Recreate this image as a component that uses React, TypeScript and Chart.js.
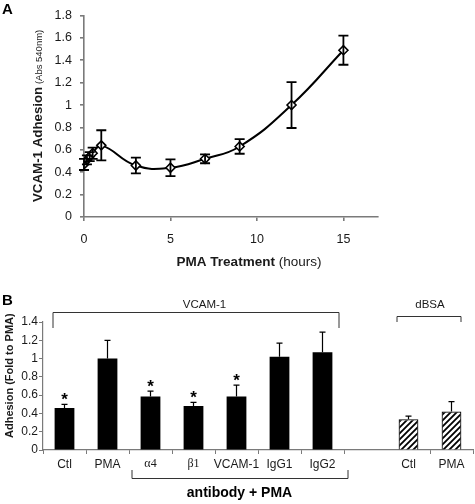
import React, { useEffect, useRef } from "react";
import { Chart, registerables } from "chart.js";
Chart.register(...registerables);

const SANS = "'Liberation Sans', Arial, sans-serif";
const SERIF = "'Liberation Serif', 'Times New Roman', serif";

// Panel A data
const timeHours = [0, 0.17, 0.33, 0.5, 1, 3, 5, 7, 9, 12, 15];
const adhesionA = [0.47, 0.51, 0.54, 0.57, 0.64, 0.46, 0.44, 0.52, 0.63, 1.0, 1.49];
const errorA = [0.05, 0.04, 0.04, 0.05, 0.135, 0.07, 0.075, 0.04, 0.065, 0.205, 0.13];

// Panel B data
const categoriesB = ["Ctl", "PMA", "α4", "β1", "VCAM-1", "IgG1", "IgG2", "", "Ctl", "PMA"];
const adhesionB = [0.46, 1.0, 0.585, 0.48, 0.585, 1.02, 1.07, null, 0.335, 0.42];
const errorB = [0.04, 0.2, 0.06, 0.04, 0.125, 0.15, 0.22, null, 0.035, 0.11];
const significantB = [true, false, true, true, true, false, false, false, false, false];
const hatchedB = [false, false, false, false, false, false, false, false, true, true];

const AXIS = "#7a7a7a";
const TEXT = "#1a1a1a";

function fmt(v: number) {
  return String(Number(Number(v).toFixed(1)));
}

function drawMixedRotated(ctx: CanvasRenderingContext2D, parts: { text: string; font: string }[], baseX: number, startY: number) {
  ctx.save();
  ctx.translate(baseX, startY);
  ctx.rotate(-Math.PI / 2);
  ctx.textBaseline = "alphabetic";
  ctx.textAlign = "left";
  let x = 0;
  for (const p of parts) {
    ctx.font = p.font;
    ctx.fillText(p.text, x, 0);
    x += ctx.measureText(p.text).width;
  }
  ctx.restore();
}

function drawMixed(ctx: CanvasRenderingContext2D, parts: { text: string; font: string }[], cx: number, baseY: number) {
  ctx.save();
  ctx.textBaseline = "alphabetic";
  ctx.textAlign = "left";
  let total = 0;
  for (const p of parts) {
    ctx.font = p.font;
    total += ctx.measureText(p.text).width;
  }
  let x = cx - total / 2;
  for (const p of parts) {
    ctx.font = p.font;
    ctx.fillText(p.text, x, baseY);
    x += ctx.measureText(p.text).width;
  }
  ctx.restore();
}

function makeHatch(): CanvasPattern | string {
  const c = document.createElement("canvas");
  const s = 6;
  c.width = s;
  c.height = s;
  const g = c.getContext("2d");
  if (!g) return "#888";
  g.fillStyle = "#fff";
  g.fillRect(0, 0, s, s);
  g.strokeStyle = "#000";
  g.lineWidth = 1.8;
  g.beginPath();
  g.moveTo(-1, s + 1);
  g.lineTo(s + 1, -1);
  g.moveTo(-1, 1);
  g.lineTo(1, -1);
  g.moveTo(s - 1, s + 1);
  g.lineTo(s + 1, s - 1);
  g.stroke();
  const p = g.createPattern(c, "repeat");
  return p || "#888";
}

export default function App() {
  const refA = useRef<HTMLCanvasElement>(null);
  const refB = useRef<HTMLCanvasElement>(null);

  useEffect(() => {
    Chart.defaults.font.family = SANS;
    const errA = {
      id: "errA",
      afterDatasetsDraw(chart: any) {
        const { ctx } = chart;
        const x = chart.scales.x;
        const y = chart.scales.y;
        ctx.save();
        ctx.strokeStyle = "#000";
        ctx.lineWidth = 1.8;
        timeHours.forEach((t, i) => {
          const px = x.getPixelForValue(t);
          const top = y.getPixelForValue(adhesionA[i] + errorA[i]);
          const bot = y.getPixelForValue(adhesionA[i] - errorA[i]);
          ctx.beginPath();
          ctx.moveTo(px, top);
          ctx.lineTo(px, bot);
          ctx.moveTo(px - 5, top);
          ctx.lineTo(px + 5, top);
          ctx.moveTo(px - 5, bot);
          ctx.lineTo(px + 5, bot);
          ctx.stroke();
        });
        ctx.restore();
      },
      afterDraw(chart: any) {
        const { ctx } = chart;
        ctx.save();
        ctx.fillStyle = "#000";
        ctx.font = `bold 15px ${SANS}`;
        ctx.textBaseline = "alphabetic";
        ctx.fillText("A", 2, 14);
        ctx.fillStyle = TEXT;
        drawMixedRotated(
          ctx,
          [
            { text: "VCAM-1 Adhesion", font: `bold 13.3px ${SANS}` },
            { text: " (Abs 540nm)", font: `9.5px ${SANS}` },
          ],
          42,
          202
        );
        drawMixed(
          ctx,
          [
            { text: "PMA Treatment", font: `bold 13.5px ${SANS}` },
            { text: " (hours)", font: `13.5px ${SANS}` },
          ],
          249,
          266
        );
        ctx.restore();
      },
    };

    const chartA = new Chart(refA.current as HTMLCanvasElement, {
      type: "line",
      data: {
        datasets: [
          {
            data: timeHours.map((t, i) => ({ x: t, y: adhesionA[i] })),
            borderColor: "#000",
            borderWidth: 2,
            tension: 0.45,
            pointStyle: "rectRot",
            pointRadius: 4.5,
            pointBackgroundColor: "#fff",
            pointBorderColor: "#000",
            pointBorderWidth: 1.6,
          },
        ],
      },
      options: {
        responsive: false,
        animation: false,
        layout: { padding: { top: 9, right: 97, left: 0, bottom: 0 } },
        plugins: { legend: { display: false }, tooltip: { enabled: false } },
        scales: {
          x: {
            type: "linear",
            min: 0,
            max: 17,
            afterFit: (s: any) => {
              s.height = 58;
            },
            border: { color: AXIS, width: 1.6 },
            grid: { drawOnChartArea: false, drawTicks: true, tickLength: 4, color: AXIS, lineWidth: 1.6 },
            ticks: {
              stepSize: 5,
              includeBounds: false,
              color: TEXT,
              font: { size: 12.5, family: SANS },
              padding: 11,
              maxRotation: 0,
            },
          },
          y: {
            min: 0,
            max: 1.8,
            afterFit: (s: any) => {
              s.width = 84;
            },
            border: { color: AXIS, width: 1.6 },
            grid: { drawOnChartArea: false, drawTicks: true, tickLength: 4, color: AXIS, lineWidth: 1.6 },
            ticks: {
              stepSize: 0.2,
              color: TEXT,
              font: { size: 12.5, family: SANS },
              padding: 8,
              callback: (v: any) => fmt(v),
            },
          },
        },
      },
      plugins: [errA],
    } as any);

    const hatch = makeHatch();

    const plugB = {
      id: "plugB",
      afterDatasetsDraw(chart: any) {
        const { ctx } = chart;
        const x = chart.scales.x;
        const y = chart.scales.y;
        ctx.save();
        ctx.strokeStyle = "#000";
        ctx.lineWidth = 1.2;
        adhesionB.forEach((v, i) => {
          if (v == null || errorB[i] == null) return;
          const px = x.getPixelForValue(i);
          const base = y.getPixelForValue(v);
          const top = y.getPixelForValue(v + (errorB[i] as number));
          ctx.beginPath();
          ctx.moveTo(px, base);
          ctx.lineTo(px, top);
          ctx.moveTo(px - 3, top);
          ctx.lineTo(px + 3, top);
          ctx.stroke();
          if (significantB[i]) {
            ctx.fillStyle = "#000";
            ctx.font = `bold 17px ${SANS}`;
            ctx.textAlign = "center";
            ctx.textBaseline = "alphabetic";
            ctx.fillText("*", px, top + 1);
          }
        });
        ctx.restore();
      },
      afterDraw(chart: any) {
        const { ctx } = chart;
        const x = chart.scales.x;
        const off = 275;
        ctx.save();
        ctx.fillStyle = "#000";
        ctx.font = `bold 15px ${SANS}`;
        ctx.textBaseline = "alphabetic";
        ctx.textAlign = "left";
        ctx.fillText("B", 2, 305 - off);
        ctx.fillStyle = TEXT;
        drawMixedRotated(ctx, [{ text: "Adhesion (Fold to PMA)", font: `bold 11px ${SANS}` }], 13, 438 - off);

        ctx.strokeStyle = "#333";
        ctx.lineWidth = 1;
        // VCAM-1 bracket
        const l1 = x.getPixelForValue(0) - 12;
        const r1 = x.getPixelForValue(6) + 16;
        const t1 = 312 - off;
        ctx.beginPath();
        ctx.moveTo(l1 + 0.5, 328 - off);
        ctx.lineTo(l1 + 0.5, t1 + 0.5);
        ctx.lineTo(r1 + 0.5, t1 + 0.5);
        ctx.lineTo(r1 + 0.5, 328 - off);
        ctx.stroke();
        // dBSA bracket
        const l2 = x.getPixelForValue(8) - 12;
        const r2 = x.getPixelForValue(9) + 9;
        const t2 = 316 - off;
        ctx.beginPath();
        ctx.moveTo(l2 + 0.5, 322 - off);
        ctx.lineTo(l2 + 0.5, t2 + 0.5);
        ctx.lineTo(r2 + 0.5, t2 + 0.5);
        ctx.lineTo(r2 + 0.5, 322 - off);
        ctx.stroke();
        // antibody bracket
        const l3 = x.getPixelForValue(2) - 19;
        const r3 = x.getPixelForValue(6) + 25;
        const t3 = 478 - off;
        ctx.beginPath();
        ctx.moveTo(l3 + 0.5, 470 - off);
        ctx.lineTo(l3 + 0.5, t3 + 0.5);
        ctx.lineTo(r3 + 0.5, t3 + 0.5);
        ctx.lineTo(r3 + 0.5, 470 - off);
        ctx.stroke();

        ctx.fillStyle = TEXT;
        ctx.textAlign = "center";
        ctx.textBaseline = "middle";
        ctx.font = `11.5px ${SANS}`;
        ctx.fillText("VCAM-1", x.getPixelForValue(3) + 11, 305 - off);
        ctx.fillText("dBSA", (x.getPixelForValue(8) + x.getPixelForValue(9)) / 2, 305 - off);
        ctx.font = `bold 14px ${SANS}`;
        ctx.fillStyle = "#000";
        ctx.fillText("antibody + PMA", (l3 + r3) / 2, 493 - off);
        ctx.restore();
      },
    };

    const chartB = new Chart(refB.current as HTMLCanvasElement, {
      type: "bar",
      data: {
        labels: categoriesB,
        datasets: [
          {
            data: adhesionB,
            backgroundColor: (c: any) => (hatchedB[c.dataIndex] ? hatch : "#000"),
            borderColor: "#000",
            borderWidth: (c: any) => (hatchedB[c.dataIndex] ? 1.2 : 0),
            barPercentage: 0.46,
            categoryPercentage: 1,
          },
        ],
      },
      options: {
        responsive: false,
        animation: false,
        layout: { padding: { top: 47, right: 2, left: 0, bottom: 0 } },
        plugins: { legend: { display: false }, tooltip: { enabled: false } },
        scales: {
          x: {
            afterFit: (s: any) => {
              s.height = 54;
            },
            border: { color: AXIS, width: 1.2 },
            grid: {
              offset: true,
              drawOnChartArea: false,
              drawTicks: true,
              tickLength: 4,
              color: (c: any) => (c.index === 8 ? "rgba(0,0,0,0)" : AXIS),
              lineWidth: 1,
            },
            ticks: {
              autoSkip: false,
              maxRotation: 0,
              color: TEXT,
              padding: 3,
              font: (c: any) => ({ size: 12, family: c.index === 2 || c.index === 3 ? SERIF : SANS }),
            },
          },
          y: {
            min: 0,
            max: 1.4,
            afterFit: (s: any) => {
              s.width = 43;
            },
            border: { color: AXIS, width: 1.2 },
            grid: { drawOnChartArea: false, drawTicks: true, tickLength: 4, color: AXIS, lineWidth: 1 },
            ticks: {
              stepSize: 0.2,
              color: TEXT,
              font: { size: 12, family: SANS },
              padding: 1,
              callback: (v: any) => fmt(v),
            },
          },
        },
      },
      plugins: [plugB],
    } as any);

    return () => {
      chartA.destroy();
      chartB.destroy();
    };
  }, []);

  return (
    <div style={{ position: "absolute", left: 0, top: 0, width: 475, height: 504, background: "#fff" }}>
      <canvas ref={refA} width={475} height={275} style={{ position: "absolute", left: 0, top: 0 }} />
      <canvas ref={refB} width={475} height={229} style={{ position: "absolute", left: 0, top: 275 }} />
    </div>
  );
}
